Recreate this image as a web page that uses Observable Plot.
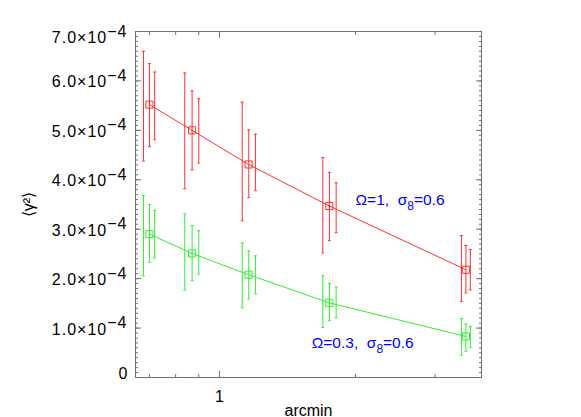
<!DOCTYPE html>
<html>
<head>
<meta charset="utf-8">
<script src="https://cdn.jsdelivr.net/npm/d3@7"></script>
<script src="https://cdn.jsdelivr.net/npm/@observablehq/plot@0.6"></script>
<style>
  body { margin: 0; background: #fff; }
  svg text { white-space: pre; }
</style>
</head>
<body>
<div id="chart"></div>
<script>
// ---- data ----
const arcmin = [0.70, 0.87, 1.16, 1.75, 3.51];          // square positions
const barXa  = [0.679, 0.838, 1.123, 1.693, 3.43];      // left error bars
const barXb  = [0.700, 0.870, 1.161, 1.751, 3.51];      // middle error bars
const barXc  = [0.719, 0.900, 1.201, 1.812, 3.59];      // right error bars

const redMean = [5.52e-4, 5.00e-4, 4.31e-4, 3.47e-4, 2.18e-4];
const redLoA = [4.38e-4, 3.82e-4, 3.17e-4, 2.52e-4, 1.54e-4];
const redHiA = [6.60e-4, 6.16e-4, 5.57e-4, 4.45e-4, 2.87e-4];
const redLoB = [4.67e-4, 4.20e-4, 3.64e-4, 2.77e-4, 1.71e-4];
const redHiB = [6.35e-4, 5.80e-4, 5.01e-4, 4.15e-4, 2.67e-4];
const redLoC = [4.81e-4, 4.34e-4, 3.78e-4, 2.93e-4, 1.77e-4];
const redHiC = [6.18e-4, 5.64e-4, 4.92e-4, 3.94e-4, 2.59e-4];

const greenMean = [2.90e-4, 2.51e-4, 2.08e-4, 1.51e-4, 0.83e-4];
const greenLoA = [2.06e-4, 1.77e-4, 1.41e-4, 1.01e-4, 0.45e-4];
const greenHiA = [3.68e-4, 3.31e-4, 2.72e-4, 2.06e-4, 1.19e-4];
const greenLoB = [2.33e-4, 1.96e-4, 1.59e-4, 1.15e-4, 0.53e-4];
const greenHiB = [3.50e-4, 3.07e-4, 2.56e-4, 1.90e-4, 1.08e-4];
const greenLoC = [2.42e-4, 2.09e-4, 1.69e-4, 1.21e-4, 0.61e-4];
const greenHiC = [3.38e-4, 2.97e-4, 2.46e-4, 1.83e-4, 1.03e-4];

const yTickValues = [0, 1e-4, 2e-4, 3e-4, 4e-4, 5e-4, 6e-4, 7e-4];
const yTickLabels = ["0", "1.0×10−4", "2.0×10−4", "3.0×10−4", "4.0×10−4", "5.0×10−4", "6.0×10−4", "7.0×10−4"];
const yMinorValues = d3.range(0, 71).map(i => i * 1e-5);
const xMajorTicks = [1];
const xMinorTicks = [0.7, 0.8, 0.9, 2, 3];
const xTickLabels = ["1"];

const seriesNames = ["Ω=1,  σ_8=0.6", "Ω=0.3,  σ_8=0.6"];
const seriesColors = ["#ff3030", "#30ee30"];
const labelX = [2.0, 1.6];
const labelY = [3.5e-4, 0.59e-4];

// ---- tables ----
const points = [];
const bars = [];
function addSeries(name, color, mean, los, his) {
  arcmin.forEach((x, i) => points.push({series: name, color, x, y: mean[i]}));
  [barXa, barXb, barXc].forEach((bx, k) => {
    bx.forEach((x, i) => bars.push({series: name, color, x, lo: los[k][i], hi: his[k][i]}));
  });
}
addSeries(seriesNames[0], seriesColors[0], redMean, [redLoA, redLoB, redLoC], [redHiA, redHiB, redHiC]);
addSeries(seriesNames[1], seriesColors[1], greenMean, [greenLoA, greenLoB, greenLoC], [greenHiA, greenHiB, greenHiC]);

const yTicks = yTickValues.map((v, i) => ({v, label: yTickLabels[i]}));
const seriesLabels = seriesNames.map((s, i) => ({text: s, x: labelX[i], y: labelY[i]}));

const capSymbol = {
  draw(context) { context.moveTo(-1.5, 0); context.lineTo(1.5, 0); }
};

const axisColor = "#707070";

const chart = Plot.plot({
  width: 581,
  height: 417,
  marginLeft: 135,
  marginRight: 100,
  marginTop: 31,
  marginBottom: 40,
  x: {type: "log", domain: [0.652, 3.80]},
  y: {domain: [0, 7e-4]},
  color: {type: "identity"},
  style: {fontFamily: "'Liberation Sans', Arial, sans-serif", fontSize: "16px", background: "#fff", color: "#000", overflow: "visible"},
  marks: [
    // inward ticks on all four sides
    Plot.axisY({anchor: "left", ticks: yTickValues, tickSize: -6, tickFormat: () => "", label: null, stroke: axisColor}),
    Plot.axisY({anchor: "left", ticks: yMinorValues, tickSize: -3, tickFormat: () => "", label: null, stroke: axisColor}),
    Plot.axisY({anchor: "right", ticks: yTickValues, tickSize: -6, tickFormat: () => "", label: null, stroke: axisColor}),
    Plot.axisY({anchor: "right", ticks: yMinorValues, tickSize: -3, tickFormat: () => "", label: null, stroke: axisColor}),
    Plot.axisX({anchor: "bottom", ticks: xMajorTicks, tickSize: -6, tickFormat: () => "", label: null, stroke: axisColor}),
    Plot.axisX({anchor: "bottom", ticks: xMinorTicks, tickSize: -3, tickFormat: () => "", label: null, stroke: axisColor}),
    Plot.axisX({anchor: "top", ticks: xMajorTicks, tickSize: -6, tickFormat: () => "", label: null, stroke: axisColor}),
    Plot.axisX({anchor: "top", ticks: xMinorTicks, tickSize: -3, tickFormat: () => "", label: null, stroke: axisColor}),
    Plot.frame({stroke: axisColor}),

    // error bars
    Plot.ruleX(bars, {x: "x", y1: "lo", y2: "hi", stroke: "color", strokeWidth: 1}),
    Plot.dot(bars, {x: "x", y: "lo", symbol: capSymbol, r: 1, fill: "none", stroke: "color", strokeWidth: 1}),
    Plot.dot(bars, {x: "x", y: "hi", symbol: capSymbol, r: 1, fill: "none", stroke: "color", strokeWidth: 1}),

    // model lines and squares
    Plot.line(points, {x: "x", y: "y", z: "series", stroke: "color", strokeWidth: 1}),
    Plot.dot(points, {x: "x", y: "y", symbol: "square", r: 4, fill: "none", stroke: "color", strokeWidth: 1}),

    // series annotations
    Plot.text(seriesLabels, {x: "x", y: "y", text: "text", textAnchor: "start", lineAnchor: "bottom", fill: "#0000ff", fontSize: 15.5, className: "sublabel"}),

    // y tick labels
    Plot.text(yTicks.filter(d => d.v > 0 && d.v < 7e-4), {y: "v", text: "label", frameAnchor: "left", textAnchor: "end", lineAnchor: "bottom", dx: -8, dy: 6.5, fill: "#000", className: "ylab"}),
    Plot.text(yTicks.filter(d => d.v === 7e-4), {y: "v", text: "label", frameAnchor: "left", textAnchor: "end", lineAnchor: "bottom", dx: -8, dy: 11.5, fill: "#000", className: "ylab"}),
    Plot.text(yTicks.filter(d => d.v === 0), {y: "v", text: "label", frameAnchor: "left", textAnchor: "end", lineAnchor: "bottom", dx: -8, dy: 1, fill: "#000", className: "ylab"}),

    // x tick label
    Plot.text(xMajorTicks, {x: d => d, text: (d, i) => xTickLabels[i], frameAnchor: "bottom", textAnchor: "middle", lineAnchor: "bottom", dy: 24, fill: "#000"}),

    // axis titles
    Plot.text(["arcmin"], {text: d => d, frameAnchor: "bottom", textAnchor: "middle", lineAnchor: "bottom", dy: 38, fill: "#000"}),
    Plot.text(["⟨γ²⟩"], {text: d => d, frameAnchor: "left", textAnchor: "middle", lineAnchor: "middle", rotate: -90, dx: -107, fill: "#000"})
  ]
});

document.getElementById("chart").appendChild(chart);

// superscript exponents on y tick labels
d3.select(chart).selectAll(".ylab text").each(function () {
  const t = d3.select(this);
  const s = t.text();
  const k = s.indexOf("×10");
  if (k < 0) return;
  const mant = s.slice(0, k + 3), sup = s.slice(k + 3);
  t.text(null).style("letter-spacing", "1px");
  t.append("tspan").text(mant);
  t.append("tspan").attr("dy", -6.5).text(sup);
});

// subscripts in series labels
d3.select(chart).selectAll(".sublabel text").each(function () {
  const t = d3.select(this);
  const s = t.text();
  const k = s.indexOf("_");
  if (k < 0) return;
  const a = s.slice(0, k), sub = s.slice(k + 1, k + 2), b = s.slice(k + 2);
  t.text(null);
  t.append("tspan").text(a);
  t.append("tspan").attr("dy", 5).attr("font-size", 12).text(sub);
  t.append("tspan").attr("dy", -5).text(b);
});
</script>
</body>
</html>
